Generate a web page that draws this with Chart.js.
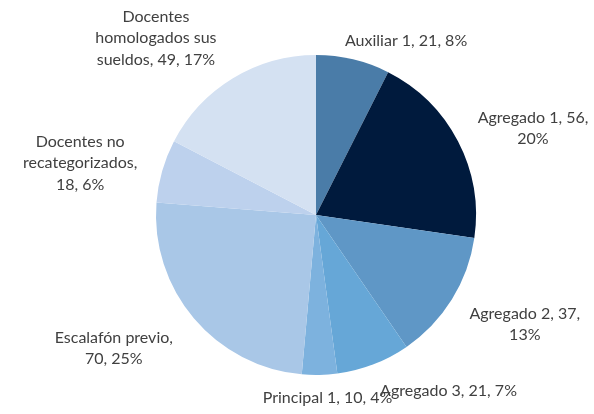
<!DOCTYPE html>
<html>
<head>
<meta charset="utf-8">
<script src="https://cdn.jsdelivr.net/npm/chart.js@4"></script>
<style>
  html, body { margin: 0; padding: 0; background: #fff; }
  #wrap { width: 594px; height: 414px; }
</style>
</head>
<body>
<div id="wrap"><canvas id="chart"></canvas></div>
<script>
const CATEGORIES = [
  'Auxiliar 1', 'Agregado 1', 'Agregado 2', 'Agregado 3', 'Principal 1',
  'Escalafón previo', 'Docentes no recategorizados', 'Docentes homologados sus sueldos',
];
const VALUES = [21, 56, 37, 21, 10, 70, 18, 49];
// label text as printed on the chart (line breaks as in the picture)
const LABEL_LINES = [
  ['Auxiliar 1, 21, 8%'],
  ['Agregado 1, 56,', '20%'],
  ['Agregado 2, 37,', '13%'],
  ['Agregado 3, 21, 7%'],
  ['Principal 1, 10, 4%'],
  ['Escalafón previo,', '70, 25%'],
  ['Docentes no', 'recategorizados,', '18, 6%'],
  ['Docentes', 'homologados sus', 'sueldos, 49, 17%'],
];
const COLORS = ['#4a7ca8', '#001a3d', '#5f97c6', '#66a7d7', '#7db2de', '#a9c7e7', '#bdd1ed', '#d4e1f2'];

// label offsets from the slice's outer mid point
const LABEL_OFFSETS = [
  [53, -19], [75, -13], [73, 25], [75, 27], [8, 23], [-80, 30], [-82, -8], [-77, -40],
];

const outsideLabels = {
  id: 'outsideLabels',
  afterDraw(chart) {
    const ctx = chart.ctx;
    const meta = chart.getDatasetMeta(0);
    ctx.save();
    ctx.font = '16px Lato, "Open Sans", sans-serif';
    ctx.fillStyle = '#404040';
    ctx.textAlign = 'center';
    ctx.textBaseline = 'middle';
    const lineH = 21.5;
    meta.data.forEach((arc, i) => {
      const mid = (arc.startAngle + arc.endAngle) / 2;
      const x = arc.x + Math.cos(mid) * arc.outerRadius + LABEL_OFFSETS[i][0];
      const y = arc.y + Math.sin(mid) * arc.outerRadius + LABEL_OFFSETS[i][1];
      const lines = LABEL_LINES[i];
      const top = y - (lines.length - 1) * lineH / 2;
      lines.forEach((t, j) => ctx.fillText(t, x, top + j * lineH));
    });
    ctx.restore();
  },
};

new Chart(document.getElementById('chart'), {
  type: 'pie',
  data: {
    labels: CATEGORIES,
    datasets: [{
      data: VALUES,
      backgroundColor: COLORS,
      borderWidth: 0,
    }],
  },
  options: {
    responsive: true,
    maintainAspectRatio: false,
    animation: false,
    layout: { padding: { top: 55, bottom: 39, left: 156, right: 118 } },
    plugins: {
      legend: { display: false },
      tooltip: { enabled: false },
    },
  },
  plugins: [outsideLabels],
});
</script>
</body>
</html>
